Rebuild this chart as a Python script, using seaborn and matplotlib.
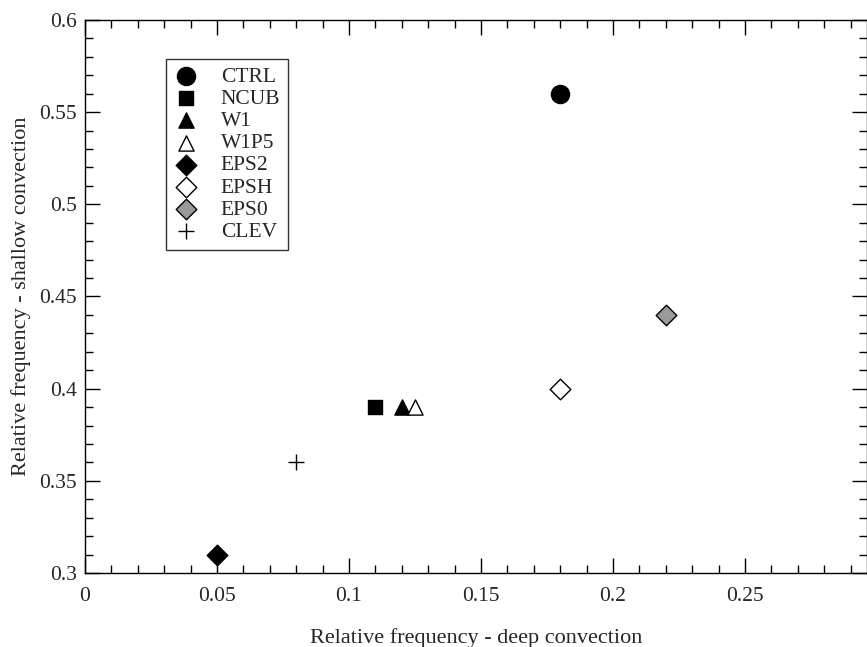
import matplotlib
matplotlib.use("Agg")
import matplotlib.pyplot as plt
import seaborn as sns
from matplotlib.ticker import MultipleLocator

# ---------------------------------------------------------
# Data
# ---------------------------------------------------------

runs = ["CTRL", "NCUB", "W1", "W1P5", "EPS2", "EPSH", "EPS0", "CLEV"]
deep_freq = [0.18, 0.11, 0.12, 0.125, 0.05, 0.18, 0.22, 0.08]
shallow_freq = [0.56, 0.39, 0.39, 0.39, 0.31, 0.40, 0.44, 0.36]

markers = ["o", "s", "^", "^", "D", "D", "D", "+"]
faces = ["black", "black", "black", "white", "black", "white", "#9a9a9a", "black"]
sizes = [170, 110, 120, 120, 110, 110, 110, 140]

# ---------------------------------------------------------
# Plot Style
# ---------------------------------------------------------

sns.set_style("ticks")
plt.rcParams["font.family"] = ["Liberation Serif", "DejaVu Serif"]

fig = plt.figure(figsize=(8.67, 6.47), dpi=100)
ax = fig.add_axes([0.098, 0.1144, 0.902, 0.8547])

for name, x, y, m, fc, s in zip(runs, deep_freq, shallow_freq, markers, faces, sizes):
    if m == "+":
        sns.scatterplot(x=[x], y=[y], marker=m, color="black", s=s,
                        linewidth=1.0, label=name, ax=ax)
    else:
        sns.scatterplot(x=[x], y=[y], marker=m, color=fc, edgecolor="black",
                        s=s, linewidth=1.0, label=name, ax=ax)

ax.set_xlim(0, 0.2962)
ax.set_ylim(0.3, 0.6)

ax.xaxis.set_major_locator(MultipleLocator(0.05))
ax.xaxis.set_minor_locator(MultipleLocator(0.01))
ax.yaxis.set_major_locator(MultipleLocator(0.05))
ax.yaxis.set_minor_locator(MultipleLocator(0.01))
ax.xaxis.set_major_formatter(plt.FuncFormatter(lambda v, p: f"{v:g}"))
ax.yaxis.set_major_formatter(plt.FuncFormatter(lambda v, p: f"{v:g}"))

ax.tick_params(which="both", direction="in", top=True, right=True,
               labelsize=15.5, width=1.0, color="black")
ax.tick_params(which="major", length=11)
ax.tick_params(which="minor", length=5.5)
ax.tick_params(axis="x", which="major", pad=10)
ax.tick_params(axis="y", which="major", pad=6)

for spine in ax.spines.values():
    spine.set_visible(True)
    spine.set_color("black")
    spine.set_linewidth(1.0)

ax.set_xlabel("Relative frequency - deep convection", fontsize=16, labelpad=16)
ax.set_ylabel("Relative frequency - shallow convection", fontsize=16, labelpad=6)

leg = ax.legend(loc="upper left", bbox_to_anchor=(0.1036, 0.9295), fontsize=15.5,
                frameon=True, fancybox=False, edgecolor="black",
                labelspacing=0.1, handletextpad=1.0, borderpad=0.35,
                handlelength=1.2, borderaxespad=0)
leg.get_frame().set_linewidth(1.0)

fig.savefig("out.png", dpi=100)
plt.close(fig)
